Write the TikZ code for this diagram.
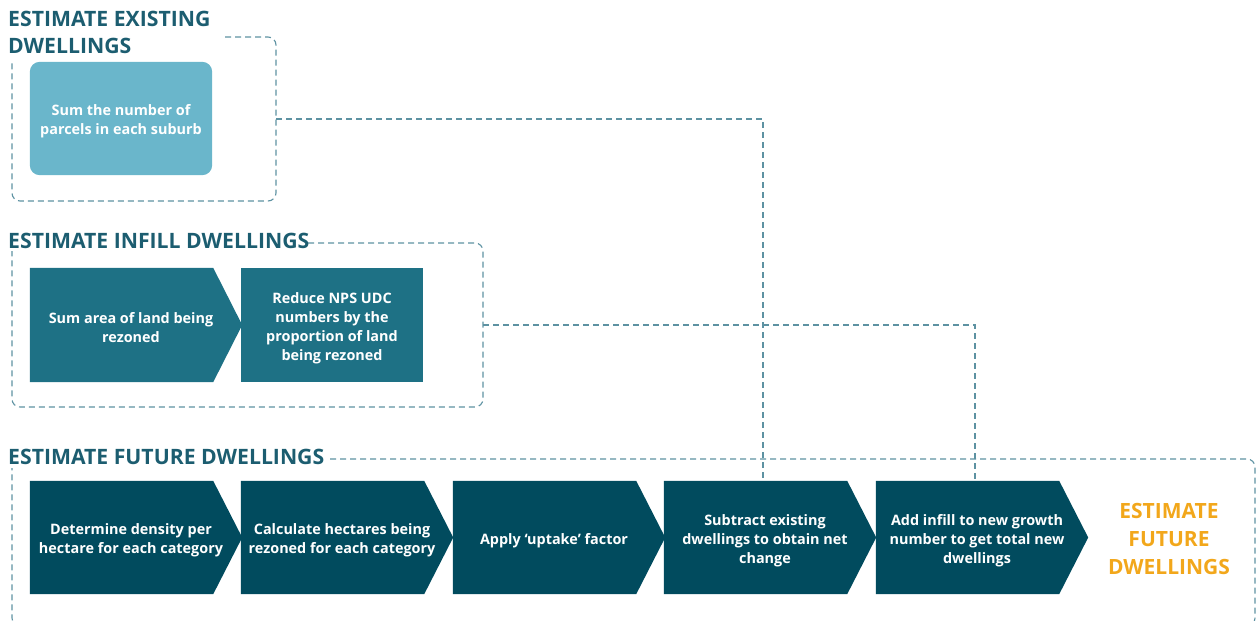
\documentclass[tikz,border=0pt]{standalone}
\usepackage{fontspec}
\setmainfont{Open Sans}
\usetikzlibrary{backgrounds}
\definecolor{titlec}{HTML}{1C5D70}
\definecolor{lightc}{HTML}{6AB6CB}
\definecolor{midc}{HTML}{1E7185}
\definecolor{darkc}{HTML}{014B5E}
\definecolor{orangec}{HTML}{F2A71B}
\definecolor{dashc}{HTML}{5D92A2}
\newcommand\chevfill[2]{\fill[#2] (#1.north west) -- ([xshift=-19pt]#1.north east) -- ([xshift=10pt,yshift=3pt]#1.east) -- ([xshift=-19pt,yshift=6pt]#1.south east) -- ([yshift=6pt]#1.south west) -- cycle;}
\newcommand\boxfill[3]{\fill[#2,#3] (#1.north west) rectangle ([yshift=6pt]#1.south east);}
\begin{document}
\begin{tikzpicture}[x=1pt,y=-1pt,
  grouptitle/.style={anchor=base west, inner sep=0pt, text=titlec, font=\fontsize{21.2}{27}\selectfont\bfseries, align=left},
  stepbox/.style={inner sep=0pt, minimum width=202pt, minimum height=119pt, text=white, font=\fontsize{14.4}{19}\selectfont\bfseries, align=center},
  border/.style={draw=dashc, line width=1.1pt, dash pattern=on 6pt off 4pt, rounded corners=8pt},
  conn/.style={draw=dashc, line width=1.1pt, dash pattern=on 6pt off 4pt},
  result/.style={inner sep=0pt, text=orangec, font=\fontsize{21}{28}\selectfont\bfseries, align=center}]
\useasboundingbox (0,0) rectangle (1259,621);
\clip (0,0) rectangle (1259,621);

% group borders
\draw[border] (225,37) -| (276,201) -| (12,60);
\draw[border] (308,243) -| (483,407) -| (12,251);
\draw[border] (330,459) -| (1255,626) -| (12,468);

% titles
\node[grouptitle] (t1) at (8,26) {ESTIMATE EXISTING};
\node[grouptitle] (t1b) at (8,53) {DWELLINGS};
\node[grouptitle] (t2) at (8,248) {ESTIMATE INFILL DWELLINGS};
\node[grouptitle] (t3) at (8,464) {ESTIMATE FUTURE DWELLINGS};

% existing
\node[stepbox, minimum width=182pt] (e1) at (121,121.5) {Sum the number of\\parcels in each suburb};

% infill
\node[stepbox, minimum height=120pt] (i1) at (131,328) {Sum area of land being\\rezoned};
\node[stepbox, minimum width=182pt, minimum height=120pt] (i2) at (332,328) {Reduce NPS UDC\\numbers by the\\proportion of land\\being rezoned};

% future
\node[stepbox] (f1) at (131,540.5) {Determine density per\\hectare for each category};
\node[stepbox] (f2) at (342,540.5) {Calculate hectares being\\rezoned for each category};
\node[stepbox] (f3) at (554,540.5) {Apply ‘uptake’ factor};
\node[stepbox] (f4) at (765,540.5) {Subtract existing\\dwellings to obtain net\\change};
\node[stepbox] (f5) at (977,540.5) {Add infill to new growth\\number to get total new\\dwellings};
\node[result] (r) at (1169,539) {ESTIMATE\\FUTURE\\DWELLINGS};

\begin{scope}[on background layer]
\boxfill{e1}{lightc}{rounded corners=10pt}
\boxfill{i2}{midc}{}
\chevfill{i1}{midc}
\chevfill{f1}{darkc}
\chevfill{f2}{darkc}
\chevfill{f3}{darkc}
\chevfill{f4}{darkc}
\chevfill{f5}{darkc}
\end{scope}

% connectors
\coordinate (g1) at (276,119);
\coordinate (g2) at (483,325);
\draw[conn] (g1) -| ([xshift=-2pt]f4.north);
\draw[conn] (g2) -| ([xshift=-2pt]f5.north);
\end{tikzpicture}
\end{document}
